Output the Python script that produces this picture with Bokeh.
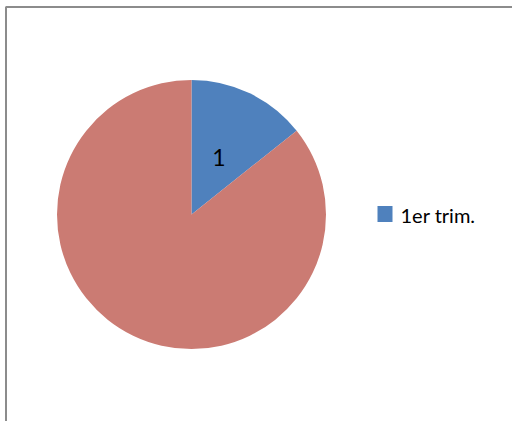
import math
from bokeh.plotting import figure
from bokeh.models import Range1d, ColumnDataSource
from bokeh.core.properties import value
from bokeh.embed import file_html
from bokeh.resources import INLINE

categories = ["1er trim.", "2º trim."]
values = [1, 6]
colors = ["#4F81BD", "#CB7B73"]
data_labels = ["1", ""]
legend_items = ["1er trim."]

W, H = 512, 421
p = figure(width=W, height=H, output_backend="svg", toolbar_location=None,
           x_range=Range1d(0, W), y_range=Range1d(421 - H, 421),
           min_border=0)
p.axis.visible = False
p.grid.visible = False
p.outline_line_color = None
p.background_fill_color = "white"
p.border_fill_color = "white"

cx, cy, r = 191, 421 - 214, 134.5
total = sum(values)
starts, ends, lx, ly = [], [], [], []
a = math.pi / 2
for v in values:
    span = 2 * math.pi * v / total
    starts.append(a)
    ends.append(a - span)
    mid = a - span / 2
    lx.append(cx + 0.47 * r * math.cos(mid))
    ly.append(cy + 0.47 * r * math.sin(mid))
    a -= span

src = ColumnDataSource(dict(start=starts, end=ends, color=colors,
                            lx=lx, ly=ly, lab=data_labels))
p.wedge(x=cx, y=cy, radius=r, start_angle="start", end_angle="end",
        direction="clock", fill_color="color", line_color=None, source=src)
p.text(x="lx", y="ly", text="lab", source=src, text_font=value("Lato"),
       text_font_size="23px", text_color="black", text_align="center",
       text_baseline="middle")

# legend
p.rect(x=[384.5], y=[421 - 213.5], width=15, height=16, fill_color=colors[0],
       line_color=None)
p.text(x=[400], y=[421 - 214], text=legend_items, text_font=value("Lato"),
       text_font_size="20px", text_color="black", text_baseline="middle")

# chart-area frame (left and top edges)
p.line(x=[5.5, 5.5], y=[421 - 6, -10], line_color="#8C8C8C", line_width=2)
p.line(x=[5.5, 530], y=[421 - 6.5, 421 - 6.5], line_color="#8C8C8C", line_width=2)

open("out.html", "w").write(file_html(p, INLINE))
